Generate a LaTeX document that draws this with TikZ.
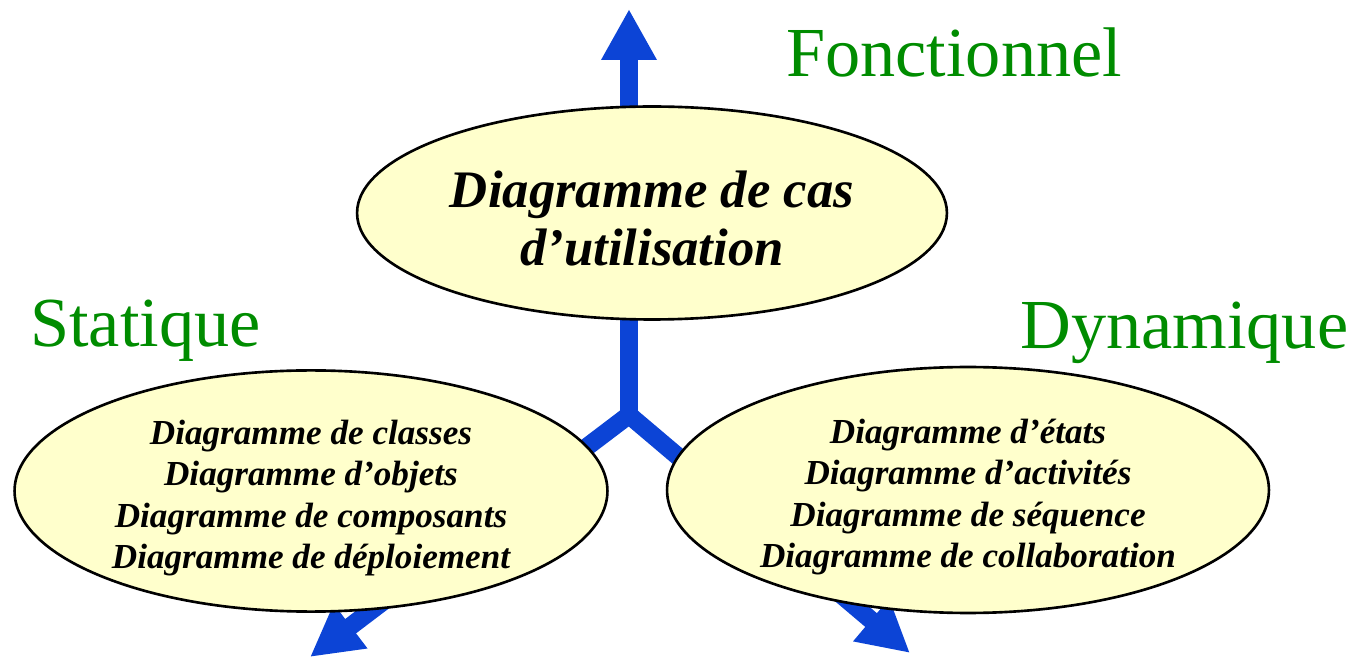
\documentclass[tikz,border=0pt]{standalone}
\usepackage{fontspec}
\setmainfont{Liberation Serif}
\usetikzlibrary{arrows.meta,shapes.geometric}
\definecolor{axisblue}{RGB}{12,68,214}
\definecolor{viewgreen}{RGB}{0,140,0}
\definecolor{viewfill}{RGB}{255,255,204}
\newcommand{\firstrow}[1]{\rule{0pt}{#1}}
\tikzset{
  axis/.style={draw=axisblue, line width=0.36cm, -{Triangle[width=1.04cm,length=1.02cm]}},
  view/.style={ellipse, draw, line width=1.5pt, fill=viewfill, inner sep=0pt, align=center},
  viewlist/.style={view, font=\fontsize{20}{23.6}\selectfont\bfseries\itshape},
  viewname/.style={anchor=base west, inner sep=0pt, text=viewgreen, font=\fontsize{40}{48}\selectfont}
}
\begin{document}
\begin{tikzpicture}[x=0.02cm, y=-0.02cm]
                \useasboundingbox (0, 0) rectangle (1350, 658);
                \coordinate (3) at (629, 415);
                \coordinate (4) at (629, 426);
                \coordinate (5) at (629, 9);
                \coordinate (6) at (310, 657);
                \coordinate (7) at (910, 653);
                \draw [axis] (4) to (5);
                \draw [axis] (3) to (6);
                \draw [axis] (3) to (7);
                \node [view, minimum width=11.8cm, minimum height=4.26cm, font=\fontsize{30}{33}\selectfont\bfseries\itshape] (0) at (652, 213) {\firstrow{27pt}Diagramme de cas\\d’utilisation};
                \node [viewlist, minimum width=11.86cm, minimum height=4.64cm] (1) at (311, 491) {\firstrow{22pt}Diagramme de classes\\Diagramme d’objets\\Diagramme de composants\\Diagramme de déploiement};
                \node [viewlist, minimum width=12.04cm, minimum height=4.92cm] (2) at (968, 490) {\firstrow{22pt}Diagramme d’états\\Diagramme d’activités\\Diagramme de séquence\\Diagramme de collaboration};
                \node [viewname] (8) at (786, 77) {Fonctionnel};
                \node [viewname] (9) at (30, 347) {Statique};
                \node [viewname] (10) at (1020, 349) {Dynamique};
\end{tikzpicture}
\end{document}
